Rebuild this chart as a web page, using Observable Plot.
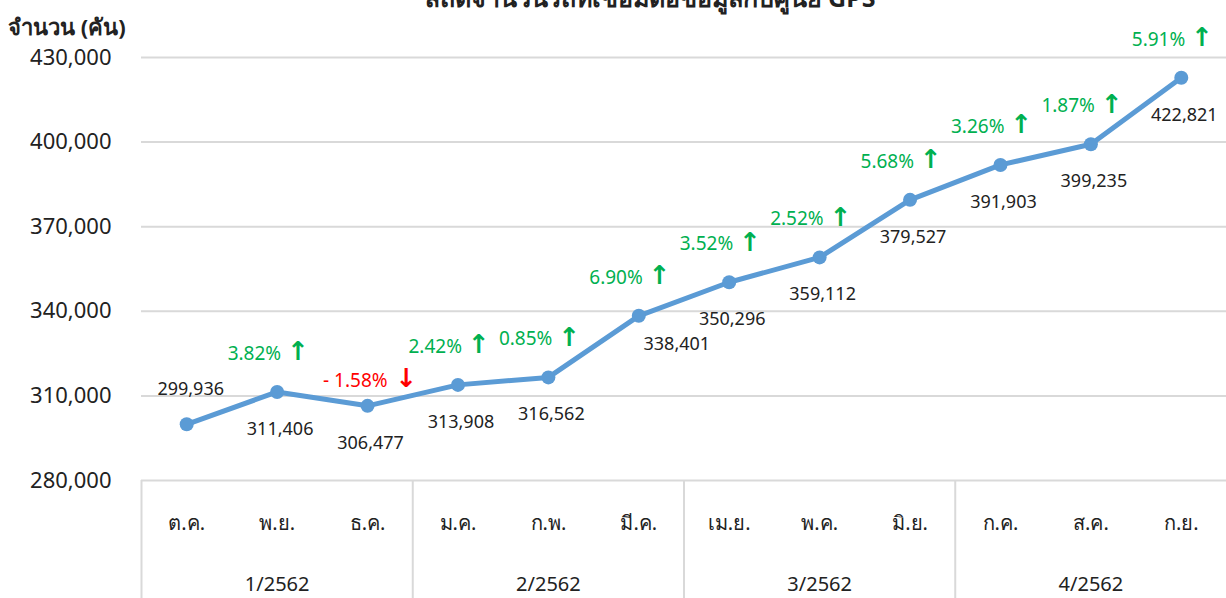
<!DOCTYPE html>
<html><head><meta charset="utf-8">
<script src="https://cdn.jsdelivr.net/npm/d3@7"></script>
<script src="https://cdn.jsdelivr.net/npm/@observablehq/plot@0.6"></script>
<style>
body{margin:0;background:#fff;font-family:Tahoma,"Noto Sans","DejaVu Sans",sans-serif;}
#wrap{position:relative;width:1226px;height:598px;overflow:hidden;}
#title{position:absolute;top:-22px;left:0;width:1300px;text-align:center;font-weight:bold;font-size:25px;color:#222;}
#ylab{position:absolute;top:10px;left:8px;font-weight:bold;font-size:22px;color:#222;}
#chart{position:absolute;top:0;left:0;}
</style></head>
<body><div id="wrap"><div id="chart"></div><div id="title">สถิติจำนวนรถที่เชื่อมต่อข้อมูลกับศูนย์ GPS</div><div id="ylab">จำนวน (คัน)</div></div>
<script>
const months = ["ต.ค.","พ.ย.","ธ.ค.","ม.ค.","ก.พ.","มี.ค.","เม.ย.","พ.ค.","มิ.ย.","ก.ค.","ส.ค.","ก.ย."];
const quarters = ["1/2562","1/2562","1/2562","2/2562","2/2562","2/2562","3/2562","3/2562","3/2562","4/2562","4/2562","4/2562"];
const vehicles = [299936,311406,306477,313908,316562,338401,350296,359112,379527,391903,399235,422821];
const pctChange = [null,"3.82%","- 1.58%","2.42%","0.85%","6.90%","3.52%","2.52%","5.68%","3.26%","1.87%","5.91%"];
const yTicks = [280000,310000,340000,370000,400000,430000];

const data = months.map((m,i)=>({month:m, quarter:quarters[i], v:vehicles[i], pct:pctChange[i], up: pctChange[i] && !pctChange[i].startsWith("-")}));
const W = 1226, H = 598, mL = 141, mR = 0, mT = 57, mB = 118;
const bw = (W - mL - mR) / months.length;
const groupStarts = data.filter((d,i)=> i===0 || quarters[i]!==quarters[i-1]).map(d=>d.month);
const groupMids = data.filter((d,i)=> i%3===1);
const fmt = d3.format(",");
const font = "Tahoma, 'Noto Sans', 'DejaVu Sans', sans-serif";
const ups = data.filter(d=>d.pct && d.up);
const downs = data.filter(d=>d.pct && !d.up);

const chart = Plot.plot({
  width: W, height: H, marginLeft: mL, marginRight: mR, marginTop: mT, marginBottom: mB,
  style: {fontFamily: font, background: "transparent", overflow: "visible"},
  x: {type: "band", domain: months, padding: 0, round: false, label: null},
  y: {domain: [280000, 430000], label: null},
  marks: [
    Plot.gridY(yTicks, {stroke: "#d9d9d9", strokeOpacity: 1, strokeWidth: 2}),
    Plot.ruleX(groupStarts, {x: d=>d, dx: -bw/2, stroke: "#d9d9d9", strokeWidth: 2, insetTop: H - mT - mB, insetBottom: -mB}),
    Plot.axisY(yTicks, {tickSize: 0, tickPadding: 30, fontSize: 22, fill: "#222", tickFormat: d=>fmt(d), label: null}),
    Plot.axisX({tickSize: 0, tickPadding: 35, fontSize: 20, fill: "#222", label: null}),
    Plot.text(groupMids, {x: "month", text: "quarter", frameAnchor: "bottom", dy: 110, fontSize: 20, fill: "#222"}),
    Plot.line(data, {x: "month", y: "v", stroke: "#5b9bd5", strokeWidth: 5, strokeLinejoin: "round"}),
    Plot.dot(data, {x: "month", y: "v", r: 7, fill: "#5b9bd5", stroke: "none"}),
    Plot.text(data.filter((d,i)=>i===0), {x: "month", y: "v", text: d=>fmt(d.v), dy: -35, dx: 4, fontSize: 18, fill: "#222"}),
    Plot.text(data.filter((d,i)=>i>0 && d.month!=="มี.ค."), {x: "month", y: "v", text: d=>fmt(d.v), dy: 37, dx: 3, fontSize: 18, fill: "#222"}),
    Plot.text(data.filter(d=>d.month==="มี.ค."), {x: "month", y: "v", text: d=>fmt(d.v), dy: 28, dx: 38, fontSize: 18, fill: "#222"}),
    Plot.text(ups, {x: "month", y: "v", text: "pct", dy: -38, dx: 4, textAnchor: "end", fontSize: 19, fill: "#00b050"}),
    Plot.text(ups, {x: "month", y: "v", text: d=>"↑", dy: -40, dx: 10, textAnchor: "start", fontSize: 26, fontWeight: "bold", fill: "#00b050"}),
    Plot.text(downs, {x: "month", y: "v", text: "pct", dy: -25, dx: 20, textAnchor: "end", fontSize: 19, fill: "#ff0000"}),
    Plot.text(downs, {x: "month", y: "v", text: d=>"↓", dy: -27, dx: 28, textAnchor: "start", fontSize: 26, fontWeight: "bold", fill: "#ff0000"})
  ]
});
document.getElementById("chart").appendChild(chart);
</script></body></html>
